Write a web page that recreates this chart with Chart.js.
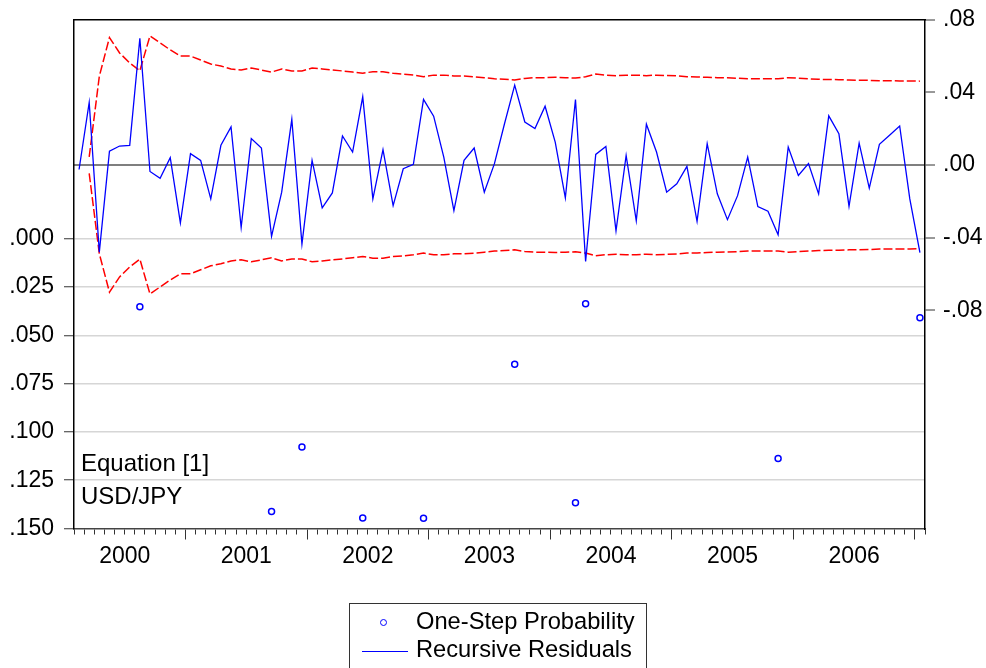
<!DOCTYPE html>
<html>
<head>
<meta charset="utf-8">
<script src="https://cdn.jsdelivr.net/npm/chart.js@4.4.1/dist/chart.umd.min.js"></script>
<style>
  body { margin: 0; background: #fff; }
  #wrap { position: relative; width: 986px; height: 668px; overflow: hidden; font-family: "Liberation Sans", Arial, sans-serif; color: #000; }
  #chart { position: absolute; left: 0; top: 0; }
  .note { position: absolute; font-size: 24px; line-height: 24px; white-space: nowrap; }
  #legend { position: absolute; left: 349px; top: 603px; width: 298px; height: 90px; border: 1px solid #333; box-sizing: border-box; }
  .lg { position: absolute; left: 66px; font-size: 23.7px; line-height: 24px; white-space: nowrap; }
  .dot { position: absolute; left: 30px; top: 15px; width: 7px; height: 7px; border: 1.5px solid #0000ff; border-radius: 50%; box-sizing: border-box; }
  .ln { position: absolute; left: 12px; top: 47px; width: 46px; height: 0; border-top: 1.2px solid #0000ff; }
</style>
</head>
<body>
<div id="wrap">
  <canvas id="chart" width="986" height="668"></canvas>
  <div class="note" style="left:81px; top:451px;">Equation [1]</div>
  <div class="note" style="left:81px; top:484px;">USD/JPY</div>
  <div id="legend">
    <div class="dot"></div>
    <div class="lg" style="top:5px;">One-Step Probability</div>
    <div class="ln"></div>
    <div class="lg" style="top:33px;">Recursive Residuals</div>
  </div>
</div>
<script>
// monthly sample 2000M02 - 2007M01
const firstYear = 2000;
const monthCount = 84;
const months = [];
for (let i = 0; i < monthCount; i++) {
  const y = firstYear + Math.floor((1 + i) / 12);
  const m = ((1 + i) % 12) + 1;
  months.push(`${y}-${String(m).padStart(2, "0")}`);
}

const residuals = [
  -0.0025, 0.0344, -0.0480, 0.0076, 0.0104, 0.0108, 0.0697, -0.0036, -0.0073, 0.0040,
  -0.0319, 0.0062, 0.0025, -0.0187, 0.0108, 0.0209, -0.0344, 0.0145, 0.0093, -0.0393,
  -0.0150, 0.0251, -0.0435, 0.0025, -0.0236, -0.0154, 0.0159, 0.0071, 0.0375, -0.0187,
  0.0084, -0.0224, -0.0021, 0.0003, 0.0360, 0.0268, 0.0043, -0.0251, 0.0025, 0.0093,
  -0.0150, 0.0007, 0.0228, 0.0439, 0.0236, 0.0200, 0.0323, 0.0126, -0.0181, 0.0360,
  -0.0531, 0.0058, 0.0102, -0.0362, 0.0052, -0.0307, 0.0224, 0.0071, -0.0150, -0.0104,
  -0.0008, -0.0310, 0.0117, -0.0159, -0.0301, -0.0169, 0.0043, -0.0229, -0.0255, -0.0384,
  0.0098, -0.0058, 0.0007, -0.0159, 0.0270, 0.0172, -0.0228, 0.0120, -0.0128, 0.0113,
  0.0163, 0.0214, -0.0187, -0.0482,
];

const upperBand = [
  null, 0.0044, 0.0488, 0.0701, 0.0616, 0.0561, 0.0518, 0.0710, 0.0671, 0.0633,
  0.0599, 0.0599, 0.0577, 0.0555, 0.0544, 0.0528, 0.0522, 0.0533, 0.0522, 0.0511,
  0.0528, 0.0517, 0.0517, 0.0533, 0.0528, 0.0522, 0.0517, 0.0511, 0.0504, 0.0513,
  0.0513, 0.0504, 0.0500, 0.0494, 0.0485, 0.0494, 0.0494, 0.0489, 0.0489, 0.0485,
  0.0480, 0.0474, 0.0471, 0.0467, 0.0476, 0.0480, 0.0480, 0.0482, 0.0480, 0.0478,
  0.0485, 0.0500, 0.0494, 0.0491, 0.0494, 0.0494, 0.0491, 0.0494, 0.0492, 0.0490,
  0.0485, 0.0484, 0.0482, 0.0480, 0.0479, 0.0477, 0.0474, 0.0474, 0.0474, 0.0474,
  0.0480, 0.0477, 0.0474, 0.0471, 0.0470, 0.0469, 0.0467, 0.0466, 0.0465, 0.0463,
  0.0463, 0.0462, 0.0462, 0.0461,
];

const lowerBand = [
  null, -0.0046, -0.0489, -0.0700, -0.0616, -0.0561, -0.0518, -0.0710, -0.0671, -0.0633,
  -0.0599, -0.0599, -0.0577, -0.0555, -0.0544, -0.0528, -0.0522, -0.0533, -0.0522, -0.0511,
  -0.0528, -0.0517, -0.0517, -0.0533, -0.0528, -0.0522, -0.0517, -0.0511, -0.0504, -0.0513,
  -0.0513, -0.0504, -0.0500, -0.0494, -0.0485, -0.0494, -0.0494, -0.0489, -0.0489, -0.0485,
  -0.0480, -0.0474, -0.0471, -0.0467, -0.0476, -0.0480, -0.0480, -0.0482, -0.0480, -0.0478,
  -0.0485, -0.0500, -0.0494, -0.0491, -0.0494, -0.0494, -0.0491, -0.0494, -0.0492, -0.0490,
  -0.0485, -0.0484, -0.0482, -0.0480, -0.0479, -0.0477, -0.0474, -0.0474, -0.0474, -0.0474,
  -0.0480, -0.0477, -0.0474, -0.0471, -0.0470, -0.0469, -0.0467, -0.0466, -0.0465, -0.0463,
  -0.0463, -0.0462, -0.0462, -0.0461,
];

// only the one-step probabilities that fall inside the .000-.150 axis are shown
const probMonths = ["2000-08", "2001-09", "2001-12", "2002-06", "2002-12", "2003-09", "2004-03", "2004-04", "2005-11", "2007-01"];
const probValues = [0.0352, 0.1412, 0.1078, 0.1445, 0.1447, 0.0649, 0.1366, 0.0336, 0.1137, 0.0409];

const probTicks = [0, 0.025, 0.05, 0.075, 0.1, 0.125, 0.15];
const residTicks = [-0.08, -0.04, 0, 0.04, 0.08];

const isYearStart = (i) => i > 0 && months[i] && months[i].endsWith("-01");

// fixed axis boxes so the plot area lands where the original has it
function fixBox(w, h) {
  return (s) => {
    if (w != null) s.width = w;
    if (h != null) s.height = h;
    s.paddingTop = 0;
    s.paddingBottom = 0;
    s.paddingLeft = 0;
    s.paddingRight = 0;
  };
}

Chart.defaults.font.family = '"Liberation Sans", Arial, sans-serif';
Chart.defaults.font.size = 23;
Chart.defaults.color = "#000";

new Chart(document.getElementById("chart"), {
  type: "line",
  data: {
    labels: months,
    datasets: [
      {
        label: "One-Step Probability",
        data: probMonths.map((m, i) => ({ x: m, y: probValues[i] })),
        yAxisID: "yP",
        showLine: false,
        pointStyle: "circle",
        pointRadius: 3,
        pointBorderWidth: 1.5,
        pointBorderColor: "#0000ff",
        pointBackgroundColor: "rgba(0,0,0,0)",
      },
      {
        label: "Recursive Residuals",
        data: residuals,
        yAxisID: "yR",
        borderColor: "#0000ff",
        borderWidth: 1.3,
        pointRadius: 0,
        tension: 0,
      },
      {
        label: "+2 S.E.",
        data: upperBand,
        yAxisID: "yR",
        borderColor: "#ff0000",
        borderWidth: 1.5,
        borderDash: [9, 3],
        pointRadius: 0,
        tension: 0,
      },
      {
        label: "-2 S.E.",
        data: lowerBand,
        yAxisID: "yR",
        borderColor: "#ff0000",
        borderWidth: 1.5,
        borderDash: [9, 3],
        pointRadius: 0,
        tension: 0,
      },
    ],
  },
  options: {
    responsive: false,
    animation: false,
    devicePixelRatio: 1,
    layout: { padding: 0, autoPadding: false },
    plugins: { legend: { display: false }, tooltip: { enabled: false } },
    scales: {
      x: {
        type: "category",
        position: "bottom",
        offset: true,
        afterFit: fixBox(null, 139.5),
        border: { display: true, color: "#444", width: 1.5 },
        grid: {
          offset: true,
          drawOnChartArea: false,
          tickLength: 11,
          tickColor: "#333",
          tickWidth: 1,
          tickBorderDash: (ctx) => (isYearStart(ctx.index) ? [] : [5, 30]),
          tickBorderDashOffset: 0,
        },
        ticks: {
          autoSkip: false,
          maxRotation: 0,
          padding: 3,
          labelOffset: -5,
          callback: function (value) {
            const lab = this.getLabelForValue(value);
            return lab.endsWith("-07") ? lab.slice(0, 4) : "";
          },
        },
      },
      xTop: {
        type: "category",
        position: "top",
        afterFit: fixBox(null, 19.5),
        border: { display: true, color: "#000", width: 1.5 },
        grid: { drawOnChartArea: false, drawTicks: false, color: "rgba(0,0,0,0)" },
        ticks: { display: false },
      },
      yP: {
        type: "linear",
        position: "left",
        reverse: true,
        min: -0.1136,
        max: 0.15,
        afterFit: fixBox(74, null),
        afterBuildTicks: (s) => { s.ticks = probTicks.map((v) => ({ value: v })); },
        border: { display: true, color: "#000", width: 1.5 },
        grid: {
          color: (ctx) => (ctx.tick && ctx.tick.value < 0.15 ? "#d6d6d6" : "rgba(0,0,0,0)"),
          lineWidth: 1.5,
          tickLength: 10,
          tickColor: "#333",
          tickWidth: 1,
        },
        ticks: {
          padding: 10,
          callback: (v) => v.toFixed(3).replace(/^0/, ""),
        },
      },
      yR: {
        type: "linear",
        position: "right",
        min: -0.2,
        max: 0.08,
        afterFit: fixBox(61, null),
        afterBuildTicks: (s) => { s.ticks = residTicks.map((v) => ({ value: v })); },
        border: { display: true, color: "#000", width: 1.5 },
        grid: {
          color: (ctx) => (ctx.tick && ctx.tick.value === 0 ? "#7f7f7f" : "rgba(0,0,0,0)"),
          lineWidth: 2,
          tickLength: 10,
          tickColor: "#333",
          tickWidth: 1,
        },
        ticks: {
          padding: 8,
          callback: (v) => (v < 0 ? "-" : "") + Math.abs(v).toFixed(2).replace(/^0/, ""),
        },
      },
    },
  },
});
</script>
</body>
</html>
